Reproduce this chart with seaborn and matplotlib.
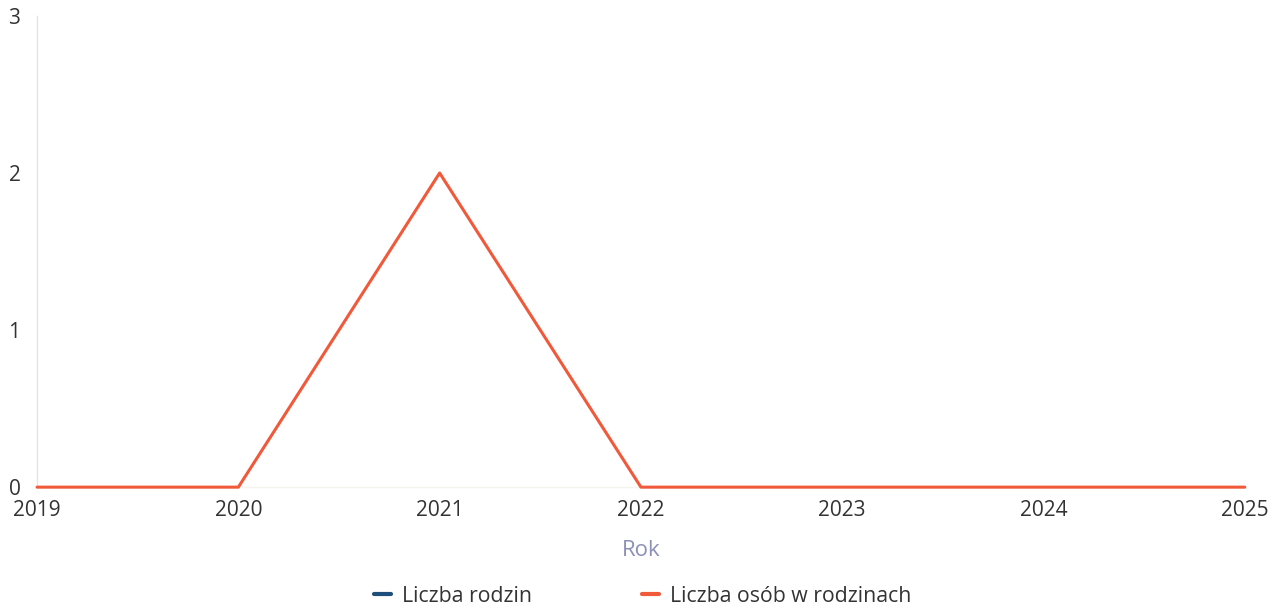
import matplotlib
matplotlib.use("Agg")
import matplotlib.pyplot as plt
from matplotlib.lines import Line2D
import seaborn as sns
import pandas as pd
import numpy as np

years = [2019, 2020, 2021, 2022, 2023, 2024, 2025]
liczba_rodzin = [np.nan, np.nan, np.nan, np.nan, np.nan, np.nan, np.nan]
liczba_osob = [0, 0, 2, 0, 0, 0, 0]
series_names = ["Liczba rodzin", "Liczba osób w rodzinach"]
series_colors = ["#1d4f7a", "#f0593a"]
y_ticks = [0, 1, 2, 3]

sns.set_theme(style="white")
plt.rcParams["font.family"] = ["Open Sans", "DejaVu Sans"]

df = pd.DataFrame({
    "Rok": years * 2,
    "value": liczba_rodzin + liczba_osob,
    "series": [series_names[0]] * len(years) + [series_names[1]] * len(years),
})

fig = plt.figure(figsize=(12.78, 6.12), dpi=100)
ax = fig.add_axes([0.029, 0.204, 0.945, 0.77])
sns.lineplot(data=df, x="Rok", y="value", hue="series", hue_order=series_names,
             palette=series_colors, linewidth=2.2, ax=ax, legend=False)
for ln in ax.get_lines():
    ln.set_clip_on(False)
    ln.set_zorder(5)

ax.set_xlim(years[0], years[-1])
ax.set_ylim(y_ticks[0], y_ticks[-1])
ax.set_xticks(years)
ax.set_xticklabels([str(y) for y in years])
ax.set_yticks(y_ticks)
ax.tick_params(axis="both", labelsize=15, colors="#333333", length=0)
ax.tick_params(axis="x", pad=9)
ax.tick_params(axis="y", pad=12)
for s in ["top", "right"]:
    ax.spines[s].set_visible(False)
ax.spines["bottom"].set_color("#f4f4ee")
ax.spines["bottom"].set_linewidth(1)
ax.spines["left"].set_color("#e4e4ea")
ax.spines["left"].set_linewidth(1)
ax.set_ylabel("")
ax.set_xlabel("Rok", fontsize=16, color="#8c90b8", labelpad=14)

handles = [Line2D([0], [0], color=c, linewidth=3) for c in series_colors]
fig.legend(handles, series_names, loc="center", bbox_to_anchor=(0.503, 0.026),
           ncol=2, frameon=False, fontsize=15.3, handlelength=0.8, handletextpad=0.5,
           columnspacing=5.2, labelcolor="#333333")

fig.savefig("out.png", dpi=100)
